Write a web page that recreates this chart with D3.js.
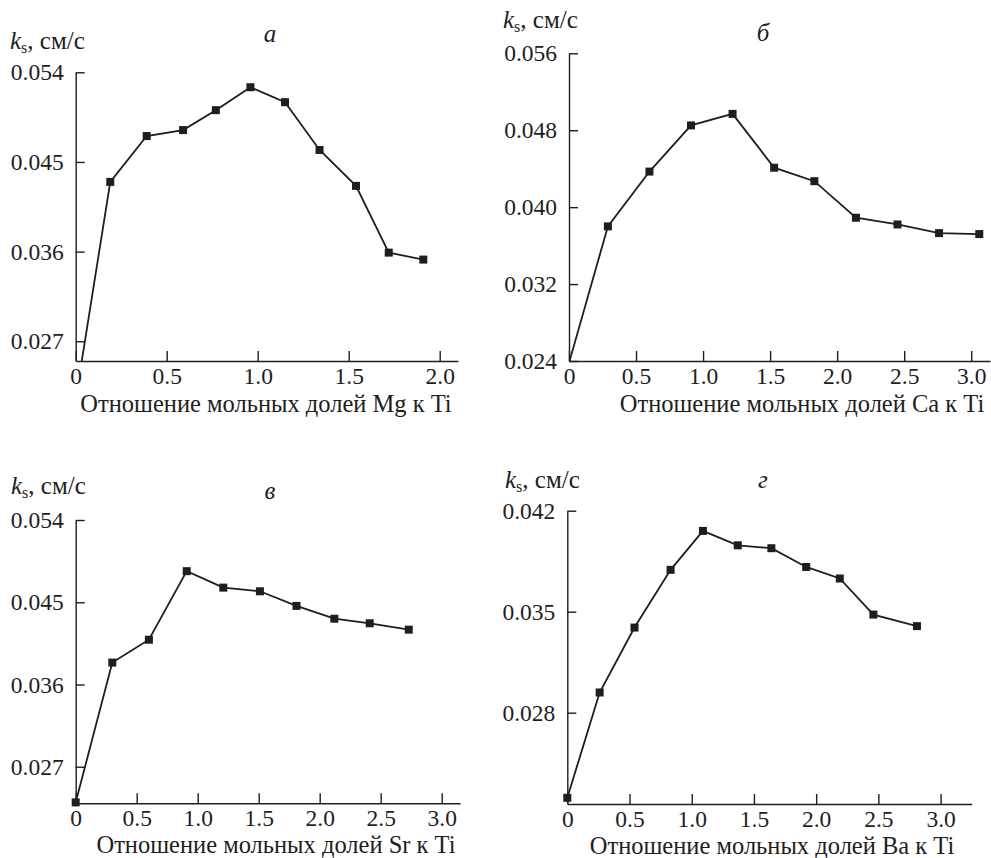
<!DOCTYPE html>
<html>
<head>
<meta charset="utf-8">
<script src="https://cdn.jsdelivr.net/npm/d3@7"></script>
<style>
  body { margin: 0; background: #fff; }
</style>
</head>
<body>
<div id="chart"></div>
<script>
var width = 991,
    height = 858

// data
// а — Mg
var xMg = [0, 0.19, 0.39, 0.59, 0.77, 0.96, 1.15, 1.34, 1.54, 1.72, 1.91]
var yMg = [0.0212, 0.0430, 0.0476, 0.0482, 0.0502, 0.0525, 0.0510, 0.0462, 0.0426, 0.0359, 0.0352]
// б — Ca
var xCa = [0, 0.29, 0.60, 0.91, 1.22, 1.53, 1.83, 2.14, 2.45, 2.76, 3.06]
var yCa = [0.0238, 0.0380, 0.0437, 0.0485, 0.0497, 0.0441, 0.0427, 0.0389, 0.0382, 0.0373, 0.0372]
// в — Sr
var xSr = [0, 0.30, 0.60, 0.91, 1.21, 1.51, 1.81, 2.12, 2.41, 2.73]
var ySr = [0.0231, 0.0384, 0.0409, 0.0484, 0.0466, 0.0462, 0.0446, 0.0432, 0.0427, 0.0420]
// г — Ba
var xBa = [0, 0.26, 0.54, 0.83, 1.09, 1.37, 1.64, 1.92, 2.19, 2.46, 2.81]
var yBa = [0.0221, 0.0294, 0.0339, 0.0379, 0.0406, 0.0396, 0.0394, 0.0381, 0.0373, 0.0348, 0.0340]

// tick labels
var yTicksMg = [0.027, 0.036, 0.045, 0.054]
var yTicksCa = [0.024, 0.032, 0.040, 0.048, 0.056]
var yTicksSr = [0.027, 0.036, 0.045, 0.054]
var yTicksBa = [0.028, 0.035, 0.042]
var xTicksMg = [0, 0.5, 1.0, 1.5, 2.0]
var xTicks3 = [0, 0.5, 1.0, 1.5, 2.0, 2.5, 3.0]

var letters = ["а", "б", "в", "г"]
var xTitles = ["Отношение мольных долей Mg к Ti", "Отношение мольных долей Ca к Ti",
               "Отношение мольных долей Sr к Ti", "Отношение мольных долей Ba к Ti"]

// panel frames (pixels) + domains
var panels = [
  {x: xMg, y: yMg, yTicks: yTicksMg, xTicks: xTicksMg, xMax: 2.1, yMin: 0.02502,
   left: 75.7, right: 457.9, top: 72.3, bottom: 361,
   ylab: [10, 49], letter: [270, 42], title: [266, 412]},
  {x: xCa, y: yCa, yTicks: yTicksCa, xTicks: xTicks3, xMax: 3.14, yMin: 0.024,
   left: 569, right: 990, top: 53.3, bottom: 361,
   ylab: [503, 28], letter: [763, 41], title: [802, 412]},
  {x: xSr, y: ySr, yTicks: yTicksSr, xTicks: xTicks3, xMax: 3.15, yMin: 0.0230,
   left: 75.7, right: 460, top: 520, bottom: 803.3,
   ylab: [11, 494], letter: [270, 499], title: [276, 853]},
  {x: xBa, y: yBa, yTicks: yTicksBa, xTicks: xTicks3, xMax: 3.25, yMin: 0.02167,
   left: 567.3, right: 971.7, top: 510.7, bottom: 804,
   ylab: [505, 488], letter: [763, 488], title: [772, 854]}
]

var font = "Liberation Serif, Tinos, DejaVu Serif, serif"
var ink = "#1e1e1e"

var svg = d3.select("#chart")
  .append("svg")
    .attr("width", width)
    .attr("height", height)
    .attr("font-family", font)

panels.forEach(function(p, i) {
  var yMax = d3.max(p.yTicks)
  var x = d3.scaleLinear().domain([0, p.xMax]).range([p.left, p.right])
  var y = d3.scaleLinear().domain([p.yMin, yMax]).range([p.bottom, p.top])

  var g = svg.append("g")

  // clip for the line (first point of some panels lies below the axis)
  g.append("clipPath").attr("id", "clip" + i)
    .append("rect")
      .attr("x", p.left).attr("y", p.top - 20)
      .attr("width", p.right - p.left).attr("height", p.bottom - p.top + 20)

  // axes
  var yAxis = d3.axisLeft(y).tickValues(p.yTicks).tickSizeInner(-9).tickSizeOuter(0)
    .tickPadding(12).tickFormat(d3.format(".3f"))
  var xAxis = d3.axisBottom(x).tickValues(p.xTicks).tickSizeInner(-10).tickSizeOuter(0)
    .tickPadding(6).tickFormat(function(d) { return d === 0 ? "0" : d3.format(".1f")(d) })

  var ya = g.append("g").attr("transform", "translate(" + p.left + ",0)").call(yAxis)
  var xa = g.append("g").attr("transform", "translate(0," + p.bottom + ")").call(xAxis)

  ;[ya, xa].forEach(function(a) {
    a.attr("font-family", font).attr("font-size", 23.5)
    a.select(".domain").attr("stroke", ink).attr("stroke-width", 1.4)
    a.selectAll(".tick line").attr("stroke", ink).attr("stroke-width", 1.4)
    a.selectAll(".tick text").attr("fill", ink)
  })

  // data line
  var pts = p.x.map(function(v, j) { return [v, p.y[j]] })
  g.append("path")
    .datum(pts)
    .attr("clip-path", "url(#clip" + i + ")")
    .attr("fill", "none")
    .attr("stroke", ink)
    .attr("stroke-width", 1.8)
    .attr("d", d3.line().x(function(d) { return x(d[0]) }).y(function(d) { return y(d[1]) }))

  // square markers
  g.selectAll("rect.pt")
    .data(pts.filter(function(d) { return d[1] >= p.yMin }))
    .enter()
    .append("rect")
      .attr("class", "pt")
      .attr("x", function(d) { return x(d[0]) - 4 })
      .attr("y", function(d) { return y(d[1]) - 4 })
      .attr("width", 8)
      .attr("height", 8)
      .attr("fill", ink)

  // y label k_s, см/с
  var yl = g.append("text").attr("x", p.ylab[0]).attr("y", p.ylab[1])
    .attr("font-size", 25).attr("fill", ink)
  yl.append("tspan").attr("font-style", "italic").text("k")
  yl.append("tspan").attr("font-size", 16).attr("dy", 4).text("s")
  yl.append("tspan").attr("dy", -4).text(", см/с")

  // panel letter
  g.append("text")
    .attr("x", p.letter[0]).attr("y", p.letter[1])
    .attr("text-anchor", "middle")
    .attr("font-style", "italic")
    .attr("font-size", 25)
    .attr("fill", ink)
    .text(letters[i])

  // x title
  g.append("text")
    .attr("x", p.title[0]).attr("y", p.title[1])
    .attr("text-anchor", "middle")
    .attr("font-size", 24.5)
    .attr("fill", ink)
    .text(xTitles[i])
})
</script>
</body>
</html>
